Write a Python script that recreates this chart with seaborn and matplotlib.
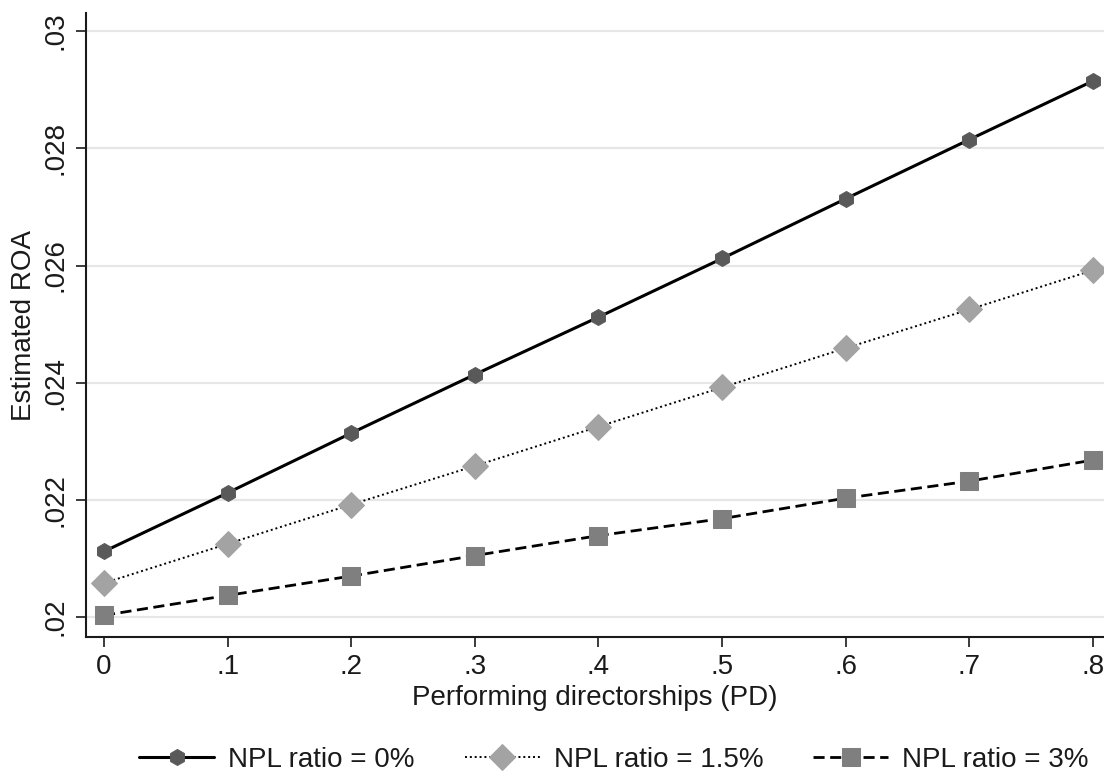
import numpy as np
import pandas as pd
import matplotlib
matplotlib.use("Agg")
import matplotlib.pyplot as plt
import seaborn as sns

# data
pd_share = [0, 0.1, 0.2, 0.3, 0.4, 0.5, 0.6, 0.7, 0.8]
roa_npl0 = [0.02112, 0.02212, 0.02314, 0.02414, 0.02512, 0.02612, 0.02714, 0.02815, 0.02915]
roa_npl15 = [0.02058, 0.02125, 0.02192, 0.02258, 0.02325, 0.02392, 0.02459, 0.02525, 0.02592]
roa_npl3 = [0.02003, 0.02037, 0.02070, 0.02105, 0.02139, 0.02168, 0.02203, 0.02232, 0.02268]
labels = ["NPL ratio = 0%", "NPL ratio = 1.5%", "NPL ratio = 3%"]
x_ticks = [0, 0.1, 0.2, 0.3, 0.4, 0.5, 0.6, 0.7, 0.8]
x_ticklabels = ["0", ".1", ".2", ".3", ".4", ".5", ".6", ".7", ".8"]
y_ticks = [0.020, 0.022, 0.024, 0.026, 0.028, 0.030]
y_ticklabels = [".02", ".022", ".024", ".026", ".028", ".03"]

sns.set_style("white")
plt.rcParams["font.family"] = ["Liberation Sans", "DejaVu Sans"]
txt = "#1a1a1a"
fs = 20

fig = plt.figure(figsize=(11.04, 7.75), dpi=100)
ax = fig.add_axes([0.0779, 0.178, 0.9221, 0.805])

styles = [
    dict(linestyle="-", lw=2.2, marker="h", mfc="#595959", ms=11.5),
    dict(linestyle=(0, (1, 1.5)), lw=1.4, marker="D", mfc="#a3a3a3", ms=13),
    dict(linestyle=(0, (4, 2)), lw=2.0, marker="s", mfc="#7f7f7f", ms=12.5),
]
series = [roa_npl0, roa_npl15, roa_npl3]
for vals, lab, st in zip(series, labels, styles):
    df = pd.DataFrame({"PD": pd_share, "ROA": vals})
    sns.lineplot(data=df, x="PD", y="ROA", ax=ax, color="black",
                 linestyle=st["linestyle"], linewidth=st["lw"],
                 marker=st["marker"], markersize=st["ms"],
                 markerfacecolor=st["mfc"], markeredgecolor=st["mfc"],
                 label=lab)

ax.set_xlim(-0.01456, 0.8089)
ax.set_ylim(0.019659, 0.030307)
ax.set_xticks(x_ticks)
ax.set_xticklabels(x_ticklabels, fontsize=fs, color=txt)
ax.set_yticks(y_ticks)
ax.set_yticklabels(y_ticklabels, fontsize=fs, rotation=90, va="center", color=txt)
ax.yaxis.grid(True, color="#e6e6e6", lw=1.5)
ax.xaxis.grid(False)
ax.tick_params(axis="both", direction="out", length=7.5, width=1.2, color="#1a1a1a",
               bottom=True, left=True, pad=5)
for side in ["top", "right"]:
    ax.spines[side].set_visible(False)
for side in ["left", "bottom"]:
    ax.spines[side].set_color("#1a1a1a")
    ax.spines[side].set_linewidth(1.5)
ax.set_xlabel("Performing directorships (PD)", fontsize=fs, color=txt, labelpad=3)
ax.set_ylabel("Estimated ROA", fontsize=fs, color=txt, labelpad=4)

handles, labs = ax.get_legend_handles_labels()
ax.get_legend().remove()
fig.legend(handles, labs, loc="center", bbox_to_anchor=(614 / 1104, 1 - 760 / 775),
           ncol=3, frameon=False, fontsize=fs, handlelength=2.7,
           handletextpad=0.5, columnspacing=1.8, labelcolor=txt)

fig.savefig("out.png", dpi=100)
